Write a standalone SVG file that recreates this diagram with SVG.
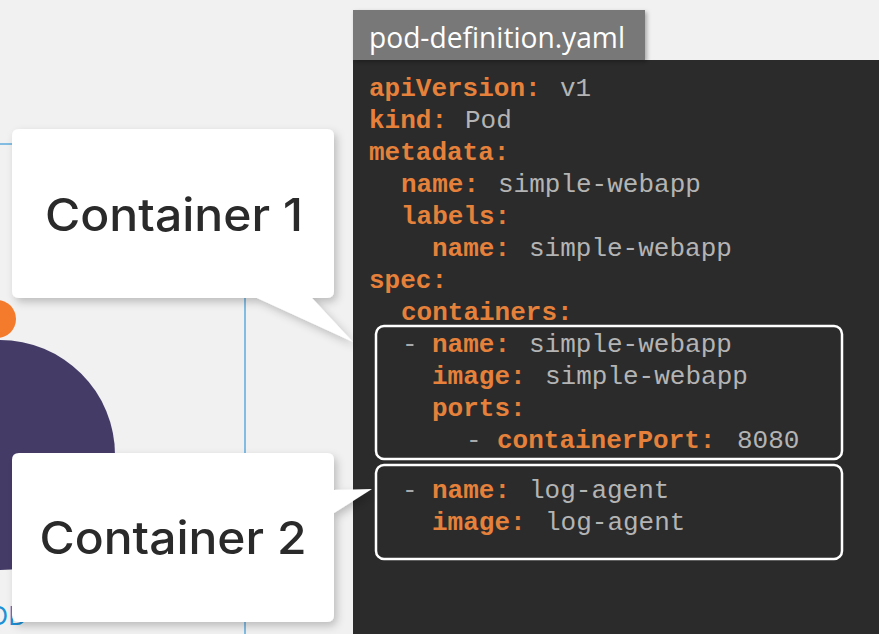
<svg xmlns="http://www.w3.org/2000/svg" width="879" height="634" viewBox="0 0 879 634">
  <defs>
    <filter id="shadow" x="-10%" y="-10%" width="125%" height="130%">
      <feDropShadow dx="3" dy="4" stdDeviation="4" flood-color="#000" flood-opacity="0.22"/>
    </filter>
    <filter id="tabshadow" x="-5%" y="-10%" width="110%" height="130%">
      <feDropShadow dx="2" dy="2" stdDeviation="2" flood-color="#000" flood-opacity="0.3"/>
    </filter>
  </defs>
  <style>
    .callout { fill: #ffffff; }
    .ctext { font-family: Inter, "Noto Sans", "Liberation Sans", sans-serif; font-size: 45px; font-weight: 500; fill: #2a2a2a; text-anchor: middle; }
    .code { font-family: "Liberation Mono", "DejaVu Sans Mono", monospace; font-size: 26px; }
    .k { fill: #e5813a; font-weight: bold; }
    .v { fill: #b4b4b4; }
    .d { fill: #a9a9a9; }
    .hl { fill: none; stroke: #ffffff; stroke-width: 2.5; }
  </style>

  <rect x="0" y="0" width="879" height="634" fill="#f1f1f1"/>

  <g id="pod">
    <rect x="-10" y="144" width="255" height="600" fill="none" stroke="#3a9ad9" stroke-width="1.2"/>
    <circle cx="0" cy="455" r="115" fill="#453b67"/>
    <circle cx="-3" cy="319" r="19" fill="#f47a2c"/>
    <text x="27" y="625" font-family="Inter, 'Noto Sans', sans-serif" font-size="26" fill="#1e90d6" text-anchor="end">POD</text>
  </g>

  <g id="code-panel">
    <rect x="353" y="60" width="526" height="574" fill="#2b2b2b"/>
    <rect x="353" y="10" width="292" height="50" fill="#787878" filter="url(#tabshadow)"/>
    <text x="369" y="48" font-family="'Open Sans', 'Noto Sans', sans-serif" font-size="29" fill="#ffffff" textLength="256" lengthAdjust="spacingAndGlyphs">pod-definition.yaml</text>
    <g class="code">
      <text y="96"><tspan class="k" x="369">apiVersion:</tspan><tspan class="v" x="560">v1</tspan></text>
      <text y="128"><tspan class="k" x="369">kind:</tspan><tspan class="v" x="465">Pod</tspan></text>
      <text y="160"><tspan class="k" x="369">metadata:</tspan></text>
      <text y="192"><tspan class="k" x="401">name:</tspan><tspan class="v" x="498">simple-webapp</tspan></text>
      <text y="224"><tspan class="k" x="401">labels:</tspan></text>
      <text y="256"><tspan class="k" x="432">name:</tspan><tspan class="v" x="529">simple-webapp</tspan></text>
      <text y="288"><tspan class="k" x="369">spec:</tspan></text>
      <text y="320"><tspan class="k" x="401">containers:</tspan></text>
      <text y="352"><tspan class="d" x="402">-</tspan><tspan class="k" x="432">name:</tspan><tspan class="v" x="529">simple-webapp</tspan></text>
      <text y="384"><tspan class="k" x="432">image:</tspan><tspan class="v" x="545">simple-webapp</tspan></text>
      <text y="416"><tspan class="k" x="432">ports:</tspan></text>
      <text y="448"><tspan class="d" x="466">-</tspan><tspan class="k" x="497">containerPort:</tspan><tspan class="v" x="737">8080</tspan></text>
      <text y="498"><tspan class="d" x="402">-</tspan><tspan class="k" x="432">name:</tspan><tspan class="v" x="529">log-agent</tspan></text>
      <text y="530"><tspan class="k" x="432">image:</tspan><tspan class="v" x="545">log-agent</tspan></text>
    </g>
  </g>

  <g id="container1-box">
    <rect class="hl" x="376" y="326" width="466" height="133" rx="8"/>
  </g>
  <g id="container2-box">
    <rect class="hl" x="376" y="465" width="466" height="94" rx="8"/>
  </g>

  <g id="connectors">
    <!-- callout tails are part of the callout shapes -->
  </g>

  <g id="callout1" filter="url(#shadow)">
    <path class="callout" d="M19,129 H327 Q334,129 334,136 V291 Q334,298 327,298 H312 L353,342 L257,298 H19 Q12,298 12,291 V136 Q12,129 19,129 Z"/>
    <text class="ctext" x="174" y="231" textLength="258" lengthAdjust="spacingAndGlyphs">Container 1</text>
  </g>

  <g id="callout2" filter="url(#shadow)">
    <path class="callout" d="M19,453 H327 Q334,453 334,460 V490 L372,489 L334,513 V615 Q334,622 327,622 H19 Q12,622 12,615 V460 Q12,453 19,453 Z"/>
    <text class="ctext" x="173" y="554" textLength="267" lengthAdjust="spacingAndGlyphs">Container 2</text>
  </g>
</svg>
